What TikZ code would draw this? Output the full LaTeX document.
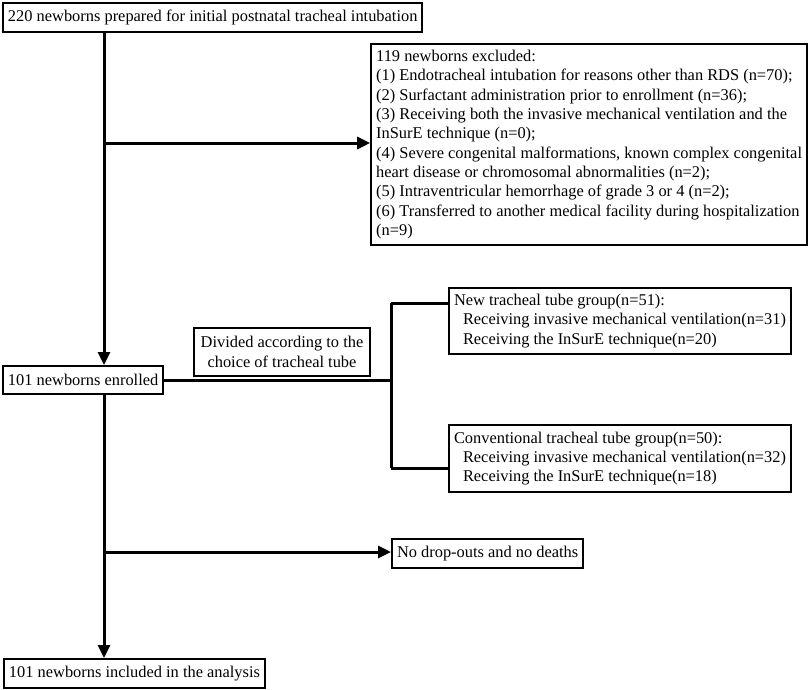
\documentclass[tikz,border=0pt]{standalone}
\usepackage{fontspec}
\setmainfont{Liberation Serif}
\usetikzlibrary{arrows.meta}
\begin{document}
\begin{tikzpicture}[x=1pt,y=-1pt,
  box/.style={draw, line width=2pt, rectangle, inner xsep=5pt, inner ysep=0pt,
    minimum height=29pt, font=\fontsize{16.4}{19.3}\selectfont},
  conn/.style={line width=3pt},
  arr/.style={line width=3pt, -{Triangle[length=13pt,width=12pt]}}]
\useasboundingbox (0,0) rectangle (810,689);
\node[box, anchor=north west] (b1) at (2,2) {220 newborns prepared for initial postnatal tracheal intubation};
\node[box, anchor=north east, align=left, minimum height=201pt] (exc) at (808,43)
 {119 newborns excluded:\\
 (1) Endotracheal intubation for reasons other than RDS (n=70);\\
 (2) Surfactant administration prior to enrollment (n=36);\\
 (3) Receiving both the invasive mechanical ventilation and the\\
 InSurE technique (n=0);\\
 (4) Severe congenital malformations, known complex congenital\\
 heart disease or chromosomal abnormalities (n=2);\\
 (5) Intraventricular hemorrhage of grade 3 or 4 (n=2);\\
 (6) Transferred to another medical facility during hospitalization\\
 (n=9)};
\node[box, anchor=north west, minimum height=28pt] (enr) at (2,365) {101 newborns enrolled};
\node[box, anchor=north west, align=center, minimum width=176pt, minimum height=48pt] (div) at (193,327)
 {Divided according to the\\choice of tracheal tube};
\node[box, anchor=north west, align=left, minimum height=66pt] (new) at (448,287)
 {New tracheal tube group(n=51):\\
 \hspace*{9pt}Receiving invasive mechanical ventilation(n=31)\\
 \hspace*{9pt}Receiving the InSurE technique(n=20)};
\node[box, anchor=north west, align=left, minimum height=67pt] (conv) at (448,424)
 {Conventional tracheal tube group(n=50):\\
 \hspace*{9pt}Receiving invasive mechanical ventilation(n=32)\\
 \hspace*{9pt}Receiving the InSurE technique(n=18)};
\node[box, anchor=north west] (nod) at (391,538) {No drop-outs and no deaths};
\node[box, anchor=north west] (fin) at (3,658) {101 newborns included in the analysis};
\coordinate (c1) at (104,143);
\coordinate (c2) at (104,552);
\coordinate (st) at (391,303);
\coordinate (sb) at (391,468);
\draw[arr] (b1.south -| c1) -- (enr.north -| c1);
\draw[arr] (c1) -- (c1 -| exc.west);
\draw[arr] (enr.south -| c1) -- (fin.north -| c1);
\draw[arr] (c2) -- (c2 -| nod.west);
\draw[conn] (enr.east) -- (enr.east -| st);
\draw[conn] (st) -- (sb);
\draw[conn] (st) -- (st -| new.west);
\draw[conn] (sb) -- (sb -| conv.west);
\end{tikzpicture}
\end{document}
